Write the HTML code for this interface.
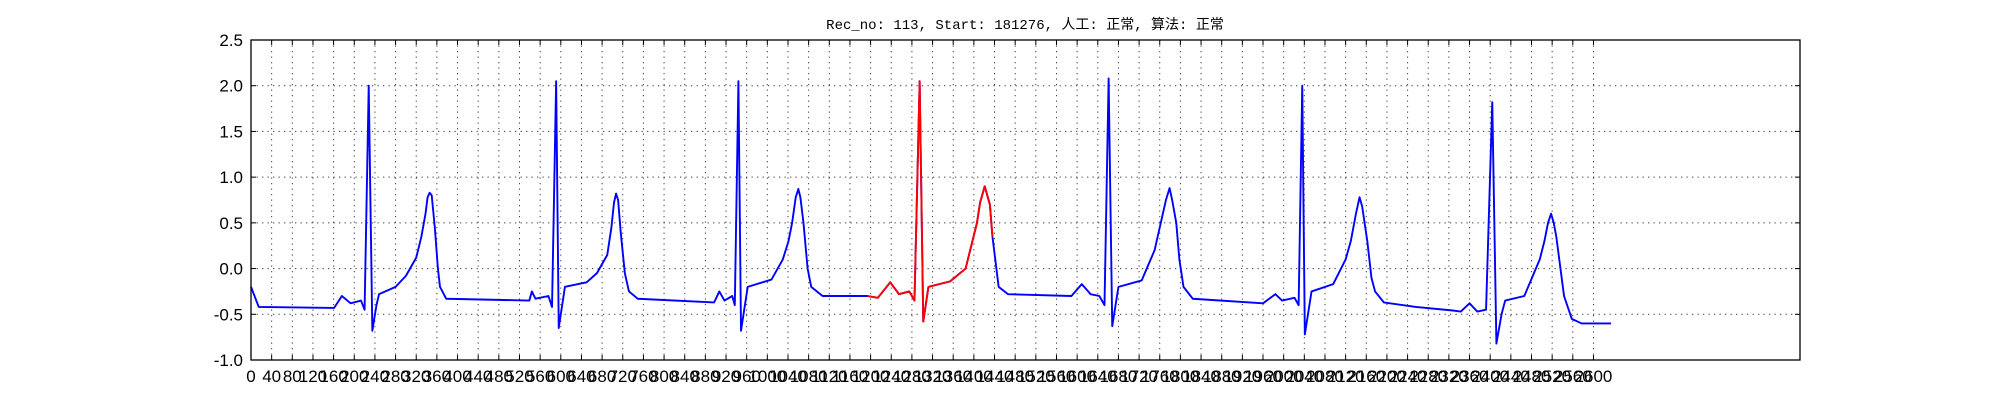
<!DOCTYPE html>
<html><head><meta charset="utf-8"><style>
html,body{margin:0;padding:0;background:#fff;}
svg{display:block;}
</style></head><body>
<svg id="chart" width="2000" height="400" xmlns="http://www.w3.org/2000/svg">
<rect width="2000" height="400" fill="#fff"/>
<text x="1025" y="29" text-anchor="middle" font-family="'Liberation Mono','Noto Sans CJK SC',monospace" font-size="14" fill="#000">Rec_no: 113, Start: 181276, 人工: 正常, 算法: 正常</text>
<g id="grid"></g><g id="ticks"></g><g id="series"></g>
<rect x="251" y="40" width="1549" height="320" fill="none" stroke="#000" stroke-width="1.3"/>
</svg>
<script>
const sampleIdx=[0,15,161,176,193,213,220,228,235,243,248,280,300,320,330,338,342,346,350,356,362,366,378,539,544,551,576,583,591,596,608,650,670,690,698,703,707,711,716,724,732,749,897,907,917,932,937,944,949,962,1008,1030,1041,1048,1055,1060,1064,1070,1078,1085,1107,1194,1214,1238,1255,1275,1285,1295,1302,1312,1354,1384,1395,1406,1412,1421,1426,1431,1436,1448,1466,1589,1609,1626,1643,1653,1661,1668,1680,1725,1750,1760,1772,1779,1784,1792,1798,1806,1824,1960,1984,1997,2021,2029,2036,2041,2054,2096,2120,2130,2140,2147,2152,2162,2170,2177,2194,2256,2330,2343,2360,2375,2392,2404,2412,2422,2429,2466,2496,2505,2512,2518,2523,2528,2543,2558,2577,2634];
const ecgValues=[-0.2,-0.42,-0.43,-0.3,-0.38,-0.35,-0.45,2.0,-0.68,-0.4,-0.28,-0.2,-0.08,0.12,0.35,0.6,0.78,0.83,0.8,0.45,0.0,-0.2,-0.33,-0.35,-0.25,-0.33,-0.3,-0.42,2.05,-0.65,-0.2,-0.15,-0.05,0.15,0.45,0.72,0.82,0.75,0.4,-0.05,-0.25,-0.33,-0.37,-0.25,-0.35,-0.3,-0.4,2.05,-0.68,-0.2,-0.12,0.1,0.3,0.5,0.78,0.87,0.78,0.5,0.0,-0.2,-0.3,-0.3,-0.32,-0.15,-0.28,-0.25,-0.35,2.05,-0.58,-0.2,-0.14,0.0,0.25,0.5,0.72,0.9,0.8,0.7,0.35,-0.2,-0.28,-0.3,-0.17,-0.28,-0.3,-0.4,2.08,-0.63,-0.2,-0.13,0.2,0.45,0.75,0.88,0.75,0.5,0.1,-0.2,-0.33,-0.38,-0.28,-0.35,-0.32,-0.4,2.0,-0.72,-0.25,-0.17,0.1,0.3,0.6,0.78,0.68,0.3,-0.1,-0.25,-0.37,-0.42,-0.46,-0.47,-0.38,-0.47,-0.45,1.82,-0.82,-0.5,-0.35,-0.3,0.1,0.3,0.5,0.6,0.5,0.35,-0.3,-0.55,-0.6,-0.6];
const redRange=[1194,1436];
const xTickLabels=[];for(let i=0;i<=2600;i+=40)xTickLabels.push(i);
const yTickLabels=[-1.0,-0.5,0.0,0.5,1.0,1.5,2.0,2.5];
const X0=251,X1=1800,Y0=360,Y1=40,XMAX=3000,YMIN=-1,YMAX=2.5;
const xs=v=>X0+(v/XMAX)*(X1-X0);
const ys=v=>Y0-(v-YMIN)/(YMAX-YMIN)*(Y0-Y1);
const NS='http://www.w3.org/2000/svg';
const grid=document.getElementById('grid'),ticks=document.getElementById('ticks'),ser=document.getElementById('series');
function mk(t,a,p){const e=document.createElementNS(NS,t);for(const k in a)e.setAttribute(k,a[k]);p.appendChild(e);return e;}
xTickLabels.forEach(v=>{const x=xs(v);
 const g=mk('line',{x1:x,x2:x,y1:Y1,y2:Y0,stroke:'#000','stroke-width':1,'stroke-dasharray':'1.3,4.2',opacity:0.75},grid);
 
 
 mk('line',{x1:x,x2:x,y1:Y0,y2:Y0-5,stroke:'#000','stroke-width':1},ticks);
 mk('line',{x1:x,x2:x,y1:Y1,y2:Y1+5,stroke:'#000','stroke-width':1},ticks);
 const t=mk('text',{x:x,y:Y0+22,'text-anchor':'middle','font-family':"'Liberation Sans',sans-serif",'font-size':17},ticks);
 t.textContent=v;
 
 
});
yTickLabels.forEach(v=>{const y=ys(v);
 const g=mk('line',{x1:X0,x2:X1,y1:y,y2:y,stroke:'#000','stroke-width':1,'stroke-dasharray':'1.3,4.2',opacity:0.75},grid);
 
 
 mk('line',{x1:X0,x2:X0+5,y1:y,y2:y,stroke:'#000','stroke-width':1},ticks);
 mk('line',{x1:X1,x2:X1-5,y1:y,y2:y,stroke:'#000','stroke-width':1},ticks);
 const t=mk('text',{x:X0-8,y:y+6,'text-anchor':'end','font-family':"'Liberation Sans',sans-serif",'font-size':17},ticks);
 t.textContent=v.toFixed(1);
 
 
});
const ptsAll=sampleIdx.map((s,i)=>xs(s).toFixed(2)+','+ys(ecgValues[i]).toFixed(2));
const blue=mk('polyline',{points:ptsAll.join(' '),fill:'none',stroke:'#0000ff','stroke-width':1.9,'stroke-linejoin':'round'},ser);


const redPts=[];sampleIdx.forEach((s,i)=>{if(s>=redRange[0]&&s<=redRange[1])redPts.push(ptsAll[i]);});
const red=mk('polyline',{points:redPts.join(' '),fill:'none',stroke:'#ff0000','stroke-width':1.9,'stroke-linejoin':'round'},ser);


</script>
</body></html>
